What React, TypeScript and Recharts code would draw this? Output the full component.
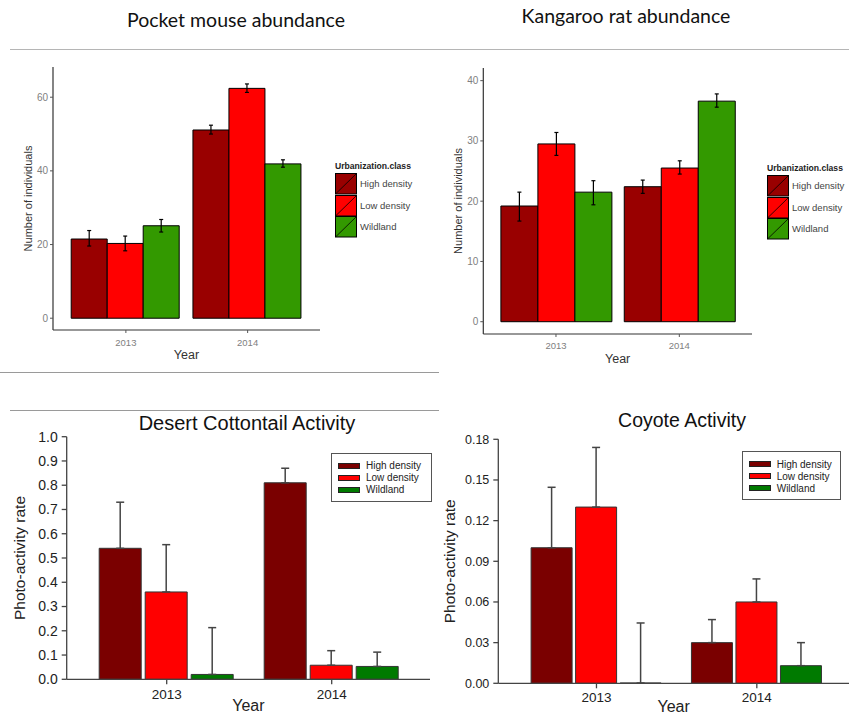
import { BarChart, Bar, XAxis, YAxis, ErrorBar, Legend } from 'recharts';

const years = ['2013', '2014'];
const classNames = ['High density', 'Low density', 'Wildland'];

// Pocket mouse abundance: means and [lower, upper] error limits
const pocketHigh = [21.5, 51.1];
const pocketLow = [20.3, 62.4];
const pocketWild = [25.1, 41.9];
const pocketHighErr = [[19.6, 23.8], [50.0, 52.4]];
const pocketLowErr = [[18.3, 22.3], [61.3, 63.6]];
const pocketWildErr = [[23.4, 26.8], [41.0, 43.0]];
const pocketTicks = [0, 20, 40, 60];

// Kangaroo rat abundance
const kangHigh = [19.2, 22.4];
const kangLow = [29.5, 25.5];
const kangWild = [21.5, 36.6];
const kangHighErr = [[16.7, 21.5], [21.3, 23.5]];
const kangLowErr = [[27.6, 31.4], [24.5, 26.7]];
const kangWildErr = [[19.4, 23.4], [35.6, 37.8]];
const kangTicks = [0, 10, 20, 30, 40];

// Desert cottontail photo-activity rate, upper error limits only
const cottonHigh = [0.54, 0.81];
const cottonLow = [0.36, 0.058];
const cottonWild = [0.02, 0.053];
const cottonHighUp = [0.73, 0.87];
const cottonLowUp = [0.555, 0.118];
const cottonWildUp = [0.213, 0.112];
const cottonTicks = [0, 0.1, 0.2, 0.3, 0.4, 0.5, 0.6, 0.7, 0.8, 0.9, 1.0];

// Coyote photo-activity rate (wildland 2013 is essentially zero)
const coyHigh = [0.1, 0.03];
const coyLow = [0.13, 0.06];
const coyWild = [0.0002, 0.013];
const coyHighUp = [0.1446, 0.047];
const coyLowUp = [0.174, 0.077];
const coyWildUp = [0.0445, 0.03];
const coyTicks = [0, 0.03, 0.06, 0.09, 0.12, 0.15, 0.18];

const ggColors = ['#990000', '#ff0000', '#339900'];
const spColors = ['#7a0000', '#ff0000', '#007a00'];

const FONT = '"Liberation Sans", Arial, sans-serif';

function rowsWithRange(h: number[], l: number[], w: number[], he: number[][], le: number[][], we: number[][]) {
  return years.map((year, i) => ({
    year,
    high: h[i],
    low: l[i],
    wild: w[i],
    highErr: [h[i] - he[i][0], he[i][1] - h[i]],
    lowErr: [l[i] - le[i][0], le[i][1] - l[i]],
    wildErr: [w[i] - we[i][0], we[i][1] - w[i]],
  }));
}

function rowsWithUpper(h: number[], l: number[], w: number[], hu: number[], lu: number[], wu: number[]) {
  return years.map((year, i) => ({
    year,
    high: h[i],
    low: l[i],
    wild: w[i],
    highErr: [0, hu[i] - h[i]],
    lowErr: [0, lu[i] - l[i]],
    wildErr: [0, wu[i] - w[i]],
  }));
}

const pocketData = rowsWithRange(pocketHigh, pocketLow, pocketWild, pocketHighErr, pocketLowErr, pocketWildErr);
const kangData = rowsWithRange(kangHigh, kangLow, kangWild, kangHighErr, kangLowErr, kangWildErr);
const cottonData = rowsWithUpper(cottonHigh, cottonLow, cottonWild, cottonHighUp, cottonLowUp, cottonWildUp);
const coyData = rowsWithUpper(coyHigh, coyLow, coyWild, coyHighUp, coyLowUp, coyWildUp);

const keys = ['high', 'low', 'wild'];

// ggplot style legend with title and slashed keys
function GgLegend(props: any) {
  const keyH = 21.5;
  return (
    <div style={{ fontFamily: FONT }}>
      <div style={{ fontWeight: 'bold', fontSize: 8.6, color: '#222', height: 14, lineHeight: '14px', whiteSpace: 'nowrap' }}>
        Urbanization.class
      </div>
      {(props.payload || []).map((entry: any) => (
        <div key={entry.value} style={{ display: 'flex', alignItems: 'center', height: keyH }}>
          <svg width={22} height={keyH} style={{ display: 'block' }}>
            <rect x={0.5} y={0.5} width={21} height={keyH - 1} fill={entry.color} stroke="#000" strokeWidth={1} />
            <line x1={1} y1={keyH - 1} x2={21} y2={1} stroke="#000" strokeWidth={0.8} />
          </svg>
          <span style={{ fontSize: 9.5, color: '#444', marginLeft: 3, whiteSpace: 'nowrap' }}>{entry.value}</span>
        </div>
      ))}
    </div>
  );
}

// SigmaPlot style boxed legend
function SpLegend(props: any) {
  return (
    <div style={{ fontFamily: FONT, border: '1px solid #555', boxSizing: 'border-box', width: '100%', height: '100%', padding: '6px 0 0 6px' }}>
      {(props.payload || []).map((entry: any) => (
        <div key={entry.value} style={{ display: 'flex', alignItems: 'center', height: 12 }}>
          <div style={{ width: 22, height: 6, background: entry.color, border: '1px solid #222', boxSizing: 'border-box' }} />
          <span style={{ fontSize: 10, color: '#222', marginLeft: 6, whiteSpace: 'nowrap' }}>{entry.value}</span>
        </div>
      ))}
    </div>
  );
}

interface AbProps {
  data: any[];
  width: number;
  height: number;
  top: number;
  right: number;
  yWidth: number;
  xHeight: number;
  domain: [number, number];
  ticks: number[];
  padL: number;
  padR: number;
  catGap: number;
  yearOffset: number;
  tickMargin: number;
  legendLeft: number;
  legendTop: number;
}

function AbundanceChart(p: AbProps) {
  return (
    <BarChart
      width={p.width}
      height={p.height}
      data={p.data}
      margin={{ top: p.top, right: p.right, bottom: 0, left: 0 }}
      barGap={0}
      barCategoryGap={p.catGap}
    >
      <XAxis
        dataKey="year"
        height={p.xHeight}
        padding={{ left: p.padL, right: p.padR }}
        axisLine={{ stroke: '#333', strokeWidth: 1.2 }}
        tickLine={{ stroke: '#555' }}
        tickSize={3}
        tickMargin={p.tickMargin}
        tick={{ fill: '#808080', fontSize: 9.5, fontFamily: FONT }}
        label={{ value: 'Year', position: 'insideBottom', offset: p.yearOffset, style: { fill: '#333', fontSize: 12.5, fontFamily: FONT } }}
      />
      <YAxis
        type="number"
        width={p.yWidth}
        domain={p.domain}
        ticks={p.ticks}
        allowDataOverflow
        axisLine={{ stroke: '#333', strokeWidth: 1.2 }}
        tickLine={{ stroke: '#555' }}
        tickSize={3}
        tickMargin={2}
        tick={{ fill: '#808080', fontSize: 10, fontFamily: FONT }}
        label={{ value: 'Number of individuals', angle: -90, position: 'insideLeft', offset: 28, style: { textAnchor: 'middle', fill: '#333', fontSize: 11, fontFamily: FONT } }}
      />
      <Legend
        layout="vertical"
        align="center"
        verticalAlign="middle"
        content={GgLegend}
        wrapperStyle={{ left: p.legendLeft, top: p.legendTop, width: 100 }}
      />
      {keys.map((k, i) => (
        <Bar key={k} dataKey={k} name={classNames[i]} fill={ggColors[i]} stroke="#000" strokeWidth={1} isAnimationActive={false}>
          <ErrorBar dataKey={k + 'Err'} width={2} stroke="#000" strokeWidth={1.2} direction="y" />
        </Bar>
      ))}
    </BarChart>
  );
}

interface ActProps {
  data: any[];
  width: number;
  height: number;
  top: number;
  right: number;
  yWidth: number;
  xHeight: number;
  domain: [number, number];
  ticks: number[];
  fmt: (v: number) => string;
  padL: number;
  padR: number;
  barGap: number;
  catGap: number;
  yTickSize: number;
  xTickMargin: number;
  yearOffset: number;
  labelOffset: number;
  legendLeft: number;
  legendTop: number;
  legendW: number;
}

function ActivityChart(p: ActProps) {
  return (
    <BarChart
      width={p.width}
      height={p.height}
      data={p.data}
      margin={{ top: p.top, right: p.right, bottom: 0, left: 0 }}
      barGap={p.barGap}
      barCategoryGap={p.catGap}
    >
      <XAxis
        dataKey="year"
        height={p.xHeight}
        padding={{ left: p.padL, right: p.padR }}
        axisLine={{ stroke: '#444', strokeWidth: 1.3 }}
        tickLine={{ stroke: '#444', strokeWidth: 1.3 }}
        tickSize={5}
        tickMargin={p.xTickMargin}
        tick={{ fill: '#222', fontSize: 13.5, fontFamily: FONT }}
        label={{ value: 'Year', position: 'insideBottom', offset: p.yearOffset, style: { fill: '#222', fontSize: 16, fontFamily: FONT } }}
      />
      <YAxis
        type="number"
        width={p.yWidth}
        domain={p.domain}
        ticks={p.ticks}
        tickFormatter={p.fmt}
        allowDataOverflow
        interval={0}
        axisLine={{ stroke: '#444', strokeWidth: 1.3 }}
        tickLine={{ stroke: '#444', strokeWidth: 1.3 }}
        tickSize={5}
        tickMargin={4}
        tick={{ fill: '#222', fontSize: p.yTickSize, fontFamily: FONT }}
        label={{ value: 'Photo-activity rate', angle: -90, position: 'insideLeft', offset: p.labelOffset, style: { textAnchor: 'middle', fill: '#222', fontSize: 15.5, fontFamily: FONT } }}
      />
      <Legend
        layout="vertical"
        align="center"
        verticalAlign="middle"
        content={SpLegend}
        wrapperStyle={{ left: p.legendLeft, top: p.legendTop, width: p.legendW, height: 49 }}
      />
      {keys.map((k, i) => (
        <Bar key={k} dataKey={k} name={classNames[i]} fill={spColors[i]} stroke="#333" strokeWidth={1} isAnimationActive={false}>
          <ErrorBar dataKey={k + 'Err'} width={4} stroke="#444" strokeWidth={1.5} direction="y" />
        </Bar>
      ))}
    </BarChart>
  );
}

const titleStyle = (left: number, top: number, width: number, size: number, family: string) => ({
  position: 'absolute' as const,
  left,
  top,
  width,
  height: 26,
  lineHeight: '26px',
  textAlign: 'center' as const,
  fontSize: size,
  fontFamily: family,
  color: '#111',
  whiteSpace: 'nowrap' as const,
});

const hLine = (left: number, top: number, width: number, color: string) => ({
  position: 'absolute' as const,
  left,
  top,
  width,
  height: 1.2,
  background: color,
});

export default function App() {
  return (
    <div style={{ position: 'fixed', left: 0, top: 0, width: 849, height: 713, background: '#fff', overflow: 'hidden' }}>
      <div style={titleStyle(86, 7, 300, 19.5, 'Lato, sans-serif')}>Pocket mouse abundance</div>
      <div style={titleStyle(476, 3, 300, 19.5, 'Lato, sans-serif')}>Kangaroo rat abundance</div>
      <div style={hLine(10, 49, 839, '#b5b5b5')} />
      <div style={hLine(0, 372, 439, '#9a9a9a')} />
      <div style={hLine(10, 409.5, 429, '#9a9a9a')} />

      <div style={{ position: 'absolute', left: 0, top: 0 }}>
        <AbundanceChart
          data={pocketData}
          width={430}
          height={370}
          top={67}
          right={110}
          yWidth={53}
          xHeight={40}
          domain={[-3.2, 68.2]}
          ticks={pocketTicks}
          padL={12}
          padR={11.5}
          catGap={6.2}
          yearOffset={11}
          tickMargin={6}
          legendLeft={335}
          legendTop={159}
        />
      </div>

      <div style={{ position: 'absolute', left: 430, top: 0 }}>
        <AbundanceChart
          data={kangData}
          width={419}
          height={370}
          top={68}
          right={97}
          yWidth={53.3}
          xHeight={36}
          domain={[-2.04, 42.1]}
          ticks={kangTicks}
          padL={11}
          padR={11}
          catGap={6.6}
          yearOffset={7}
          tickMargin={5}
          legendLeft={337}
          legendTop={161}
        />
      </div>

      <div style={titleStyle(97, 410, 300, 20, FONT)}>Desert Cottontail Activity</div>
      <div style={{ position: 'absolute', left: 0, top: 400 }}>
        <ActivityChart
          data={cottonData}
          width={440}
          height={313}
          top={36.7}
          right={10}
          yWidth={66.7}
          xHeight={33.7}
          domain={[0, 1]}
          ticks={cottonTicks}
          fmt={(v) => v.toFixed(1)}
          padL={17.5}
          padR={15.8}
          barGap={4}
          catGap={15}
          yTickSize={14}
          xTickMargin={5}
          yearOffset={2.5}
          labelOffset={19}
          legendLeft={331}
          legendTop={52.7}
          legendW={101}
        />
      </div>

      <div style={titleStyle(532, 407, 300, 19.5, FONT)}>Coyote Activity</div>
      <div style={{ position: 'absolute', left: 440, top: 400 }}>
        <ActivityChart
          data={coyData}
          width={409}
          height={313}
          top={39.3}
          right={0}
          yWidth={58.3}
          xHeight={29.7}
          domain={[0, 0.18]}
          ticks={coyTicks}
          fmt={(v) => v.toFixed(2)}
          padL={18}
          padR={12}
          barGap={3.5}
          catGap={14.8}
          yTickSize={12.5}
          xTickMargin={4}
          yearOffset={1.5}
          labelOffset={10}
          legendLeft={301.7}
          legendTop={51}
          legendW={99}
        />
      </div>
    </div>
  );
}
